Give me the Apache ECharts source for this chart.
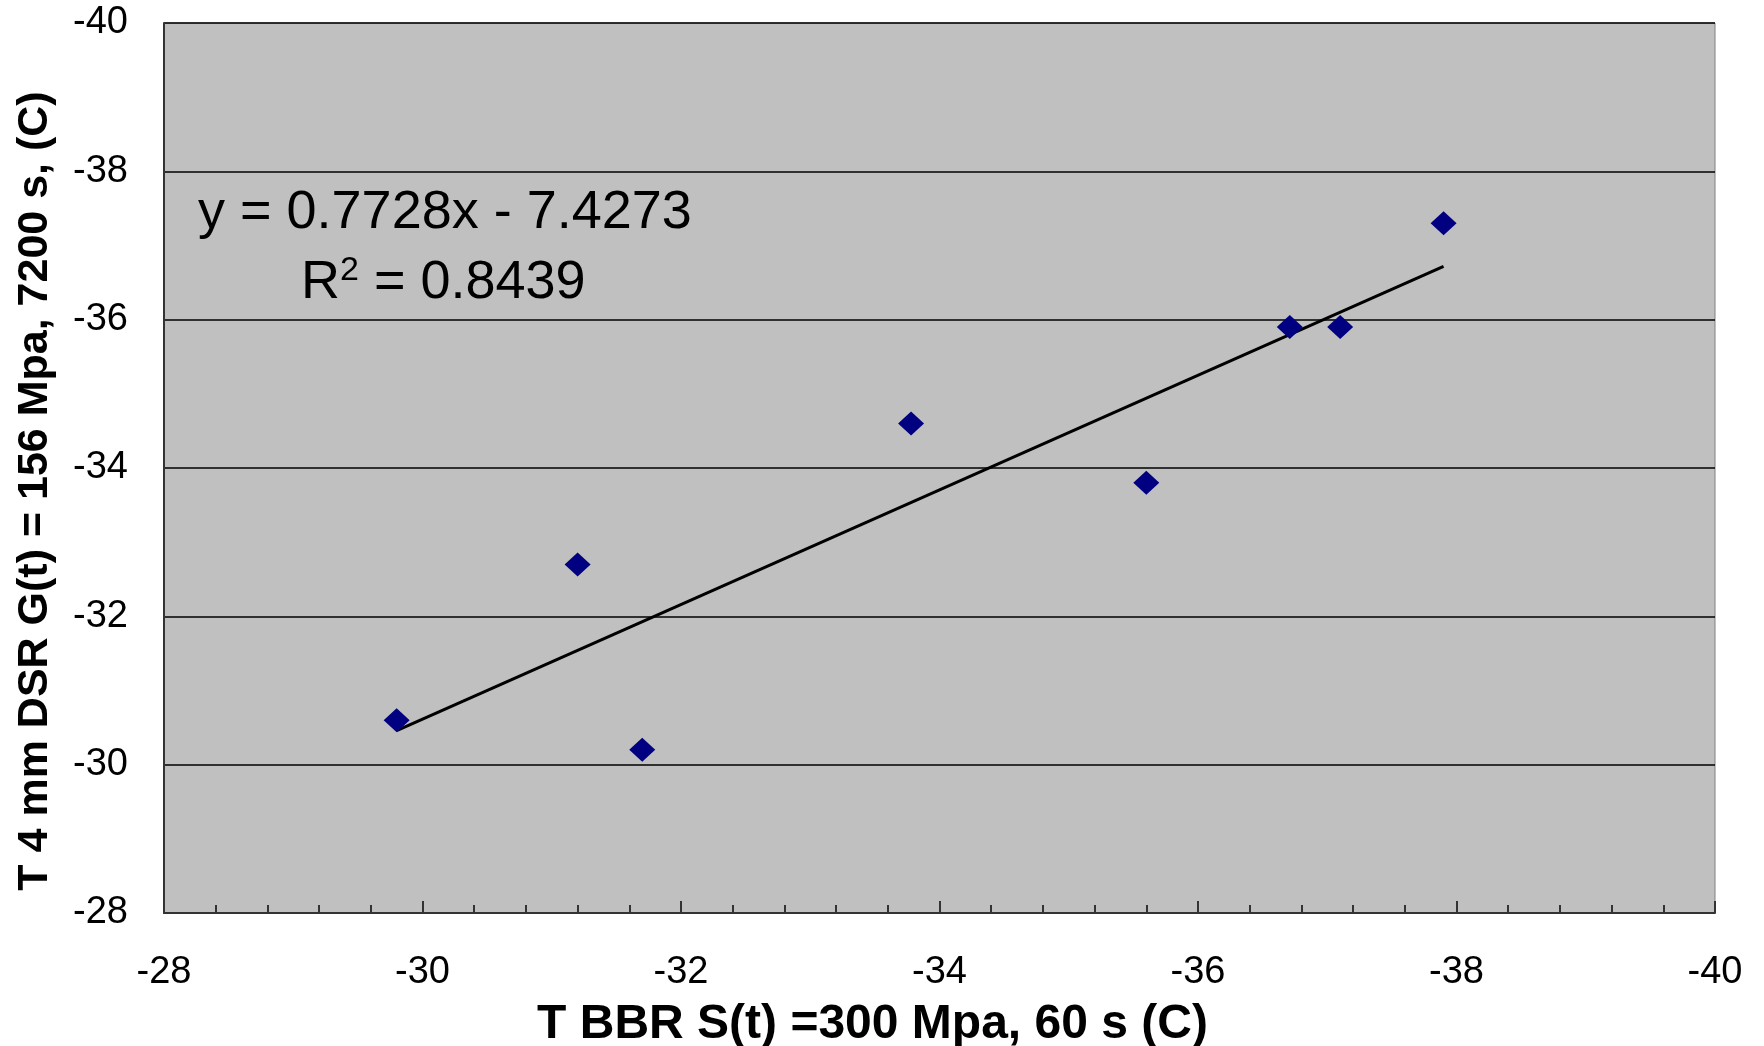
<!DOCTYPE html>
<html>
<head>
<meta charset="utf-8">
<script src="https://cdn.jsdelivr.net/npm/echarts@6/dist/echarts.min.js"></script>
<style>
html,body{margin:0;padding:0;background:#fff;}
#chart{width:1764px;height:1046px;}
</style>
</head>
<body>
<div id="chart"></div>
<script>
// Data
var xTitle = 'T BBR S(t) =300 Mpa, 60 s (C)';
var yTitle = 'T 4 mm DSR G(t) = 156 Mpa, 7200 s, (C)';
var bbrValues = [-29.8, -31.2, -31.7, -33.78, -35.6, -36.71, -37.1, -37.9];
var dsrValues = [-30.6, -32.7, -30.2, -34.6, -33.8, -35.9, -35.9, -37.3];
var trendX = [-29.8, -37.9];
var trendY = [-30.46, -36.72];
var equationText = 'y = 0.7728x - 7.4273';
var r2Value = '0.8439';
var axisMin = -40, axisMax = -28, axisStep = 2;

var points = bbrValues.map(function (x, i) { return [x, dsrValues[i]]; });
var trend = trendX.map(function (x, i) { return [x, trendY[i]]; });

var font = '"Liberation Sans", Arial, sans-serif';
var chart = echarts.init(document.getElementById('chart'));
chart.setOption({
  animation: false,
  backgroundColor: '#ffffff',
  grid: {
    left: 164, right: 49, top: 23, bottom: 133,
    containLabel: false, outerBoundsMode: 'none',
    show: true, backgroundColor: '#C0C0C0', borderColor: '#808080', borderWidth: 1
  },
  xAxis: {
    type: 'value', inverse: true, min: axisMin, max: axisMax, interval: axisStep,
    name: xTitle, nameLocation: 'middle', nameGap: 88,
    nameTextStyle: { fontFamily: font, fontWeight: 'bold', fontSize: 48, color: '#000', padding: [0, 134, 0, 0] },
    axisLine: { onZero: false, lineStyle: { color: '#333', width: 2 } },
    axisTick: { inside: true, length: 12, lineStyle: { color: '#333', width: 2 } },
    minorTick: { show: true, splitNumber: 5, length: 8, lineStyle: { color: '#333', width: 2 } },
    axisLabel: { fontFamily: font, fontSize: 38, color: '#000', margin: 41 },
    splitLine: { show: false }
  },
  yAxis: {
    type: 'value', inverse: true, min: axisMin, max: axisMax, interval: axisStep,
    name: yTitle, nameLocation: 'middle', nameGap: 107, nameRotate: 90,
    nameTextStyle: { fontFamily: font, fontWeight: 'bold', fontSize: 43, color: '#000', padding: [0, 46, 0, 0] },
    axisLine: { onZero: false, lineStyle: { color: '#333', width: 2 } },
    axisTick: { show: false },
    axisLabel: { fontFamily: font, fontSize: 38, color: '#000', margin: 36 },
    splitLine: { show: true, lineStyle: { color: '#000', width: 1.5 } }
  },
  graphic: [
    {
      type: 'text', left: 198, top: 186, z: 100,
      style: { text: equationText, fontFamily: font, fontSize: 54, fill: '#000' }
    },
    {
      type: 'text', left: 301, top: 254, z: 100,
      style: {
        text: 'R{sup|2} = ' + r2Value, fontFamily: font, fontSize: 54, fill: '#000',
        rich: { sup: { fontSize: 34, verticalAlign: 'top', padding: [0, 0, 24, 0], fontFamily: font } }
      }
    }
  ],
  series: [
    {
      type: 'line', data: trend, showSymbol: false, symbol: 'none',
      lineStyle: { color: '#000', width: 3 }, z: 3, silent: true
    },
    {
      type: 'scatter', data: points, symbol: 'diamond', symbolSize: [26, 24],
      itemStyle: { color: '#000080', opacity: 1 }, z: 4
    }
  ]
});
</script>
</body>
</html>
